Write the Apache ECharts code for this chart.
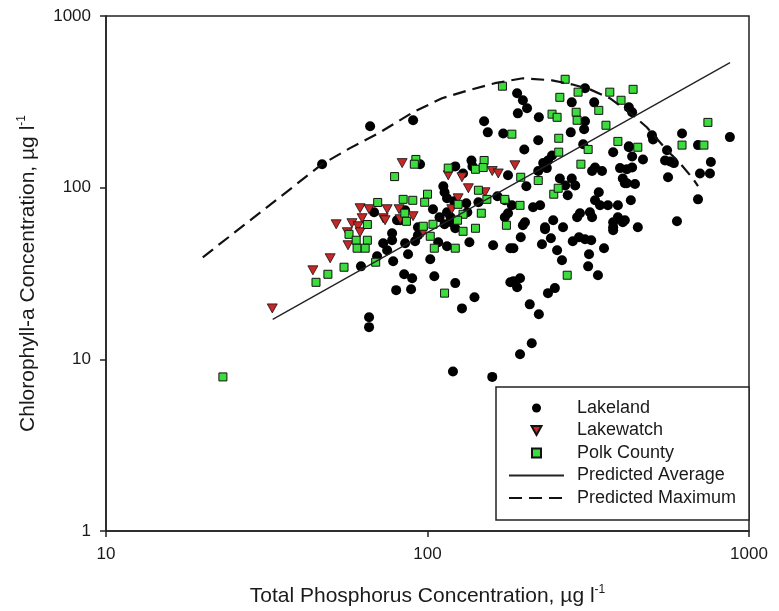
<!DOCTYPE html>
<html>
<head>
<meta charset="utf-8">
<title>Chlorophyll-a vs Total Phosphorus</title>
<script src="https://cdn.jsdelivr.net/npm/echarts@6/dist/echarts.min.js"></script>
<style>
  html, body { margin: 0; padding: 0; background: #fff; }
  #chart { width: 779px; height: 611px; }
</style>
</head>
<body>
<div id="chart"></div>
<script>
// Observations: [total phosphorus (µg/l), chlorophyll-a (µg/l)]
const lakeland = [
  [66.3,228],[47,137],[68.2,71.9],[80.4,64.6],[77.6,54.3],[72.8,47.5],[69.7,39.9],[62.1,34.8],
  [78.2,37.3],[79.9,25.3],[84.6,31.3],[74.9,43.2],[65.8,17.6],[65.8,15.4],[87,40.9],
  [90.2,247],[150,244],[154,210],[172,207],[94.8,137],[122,133],[137,144],[138,133],[129,121],
  [178,118],[112,102],[113,94],[165,89.1],[174,84.4],[115,86.7],[121,83.3],[132,81.1],[104,74.9],
  [115,71.9],[109,67.2],[133,71.9],[85.2,73.9],[82.2,64.6],[118,67.2],[120,62.1],[113,61.2],
  [93.4,58.8],[174,67.2],[183,78.9],[144,82.2],[122,58],[93.4,52.8],[77.6,49.4],[85.2,47.5],
  [91.5,48.7],[108,48.1],[115,45.6],[135,48.1],[160,46.2],[181,44.4],[102,38.3],[89.6,29.7],
  [105,30.5],[122,27.8],[181,28.1],[88.9,25.6],[140,23],[128,19.8],[120,8.5],[159,7.9],
  [190,355],[198,323],[204,290],[191,271],[309,379],[281,314],[330,314],[222,257],[309,244],
  [307,219],[279,210],[221,189],[423,174],[200,167],[305,179],[378,161],[244,154],[237,144],
  [229,139],[235,130],[332,131],[325,125],[349,125],[397,130],[221,125],[258,113],[281,113],
  [268,103],[203,102],[405,113],[411,106],[273,90.3],[288,103],[341,94],[332,84.4],[344,78.9],
  [364,78.9],[391,78.9],[213,76.9],[224,78.9],[298,71],[292,67.2],[320,71.9],[325,67.2],
  [391,67.2],[378,62.9],[405,62.9],[201,62.9],[246,64.6],[178,71],[232,58.8],[264,58.8],[378,58.8],
  [423,294],[433,275],[872,197],[619,207],[694,177],[499,202],[503,191],[423,172],[433,152],
  [556,165],[468,146],[548,144],[568,142],[584,139],[761,141],[704,121],[756,121],[433,131],
  [417,128],[560,115],[417,106],[442,105],[694,85.5],[429,84.4],[597,63.7],[451,58.8],[411,64.6],
  [198,60.4],[232,57.3],[242,50.7],[195,51.4],[185,44.4],[227,46.8],[253,43.2],[262,37.8],
  [283,48.7],[296,51.4],[309,50.1],[323,49.4],[378,56.5],[354,44.4],[318,40.9],[316,34.8],
  [339,30.9],[185,28.5],[194,29.7],[190,26.3],[249,26],[237,24.3],[208,20.9],[222,18.3],
  [211,12.4],[194,10.7]
];

const lakewatch = [
  [61.7,75.9],[65.8,74.9],[74.9,74.9],[58.2,62.1],[62.6,66.4],[52,61.2],[60.8,59.6],[56.6,46.2],
  [49.8,38.8],[44,33],[32.9,19.8],[72.8,66.4],[83.4,139],[116,118],[128,115],[159,125],[166,121],
  [134,99.2],[151,94],[124.5,86.7],[81.6,74.9],[90.2,68.2],[73.8,64.6],[82.2,65.5],[96.9,55],
  [187,135],[119,74.9],[56.3,55],[61.7,55]
];

const polkCounty = [
  [23.1,7.9],[70,82],[65,61],[57,53.5],[60,49.4],[65,49.4],[60.4,44.4],[64,44.4],[79,116],
  [69,36.8],[55,34.4],[49,31.3],[45,28.1],[171,390],[92,146],[91,137],[116,130],[141,128],
  [150,144],[149,131],[144,96.6],[153,85.5],[174,85.5],[84,85.5],[90,84.4],[100,91.6],[98,82.2],
  [124.5,80],[147,71],[129,70],[85,71],[86,63.7],[124,64.6],[104,61.2],[97,59.6],[141,58],
  [129,55.7],[102,52.1],[105,44.4],[122,44.4],[113,24.3],[268,428],[258,336],[244,268],[253,257],
  [290,275],[292,247],[294,360],[341,282],[369,360],[400,323],[436,374],[359,231],[391,186],
  [451,172],[316,167],[256,194],[256,161],[183,205],[300,137],[247,91.6],[255,99.2],[221,110],
  [194,78.9],[745,240],[619,177],[724,177],[176,60.4],[272,30.9],[195,115]
];

// Model curves
const predictedAverage = [[33,17.1],[873,535]];
const predictedMaximum = [
  [20,39.3],[47,137],[57.4,170],[71.2,210],[90.2,275],[111,332],[134,369],[162,406],[198,434],
  [244,422],[281,400],[320,374],[369,332],[436,264],[481,225],[556,165],[610,139],[669,113],[694,102]
];

const xTicks = [10, 100, 1000];
const yTicks = [1, 10, 100, 1000];

const FONT = '"Liberation Sans", Arial, Helvetica, sans-serif';
const INK = '#1a1a1a';

// Marker shapes (downward triangle, square) shared by series and legend
const TRIANGLE_DOWN = 'path://M0,0 L10,0 L5,9 Z';
const SQUARE = 'path://M0,0 L10,0 L10,10 L0,10 Z';
const HIDDEN = { color: 'rgba(0,0,0,0)', borderColor: 'rgba(0,0,0,0)', borderWidth: 0 };

const tickLabel = v => String(Math.round(v));

const chart = echarts.init(document.getElementById('chart'), null, { renderer: 'canvas' });

chart.setOption({
  animation: false,
  backgroundColor: '#fff',
  textStyle: { fontFamily: FONT, color: INK },
  grid: {
    left: 106, right: 30, top: 16, bottom: 80,
    show: true, borderColor: '#222', borderWidth: 1.5,
    outerBoundsMode: 'none'
  },
  legend: {
    orient: 'vertical',
    left: 496, top: 387,
    padding: [10, 13, 11, 12],
    borderColor: '#222', borderWidth: 1.5,
    backgroundColor: '#fff',
    itemWidth: 55, itemHeight: 9, itemGap: 0.5,
    symbolKeepAspect: true,
    symbolRotate: 0,
    textStyle: { fontFamily: FONT, fontSize: 18, color: INK, lineHeight: 22, padding: [0, 0, 0, 8] },
    data: [
      { name: 'Lakeland', icon: 'circle' },
      { name: 'Lakewatch', icon: TRIANGLE_DOWN, symbolRotate: 0 },
      { name: 'Polk County', icon: SQUARE },
      { name: 'Predicted Average', itemStyle: HIDDEN },
      { name: 'Predicted Maximum', itemStyle: HIDDEN }
    ]
  },
  xAxis: {
    type: 'log', logBase: 10, min: xTicks[0], max: xTicks[xTicks.length - 1],
    name: 'Total Phosphorus Concentration, µg l{sup|-1}',
    nameLocation: 'middle', nameGap: 53,
    nameTextStyle: {
      fontFamily: FONT, fontSize: 21, color: INK, lineHeight: 24,
      rich: { sup: { fontFamily: FONT, fontSize: 12, color: INK, verticalAlign: 'top', lineHeight: 12 } }
    },
    axisLine: { show: true, lineStyle: { color: '#222', width: 1.5 } },
    axisTick: { show: true, length: 6, lineStyle: { color: '#222', width: 1.5 } },
    minorTick: { show: false },
    splitLine: { show: false },
    axisLabel: { margin: 15, fontFamily: FONT, fontSize: 17, color: INK, formatter: tickLabel, showMinLabel: true, showMaxLabel: true }
  },
  yAxis: {
    type: 'log', logBase: 10, min: yTicks[0], max: yTicks[yTicks.length - 1],
    name: 'Chlorophyll-a Concentration, µg l{sup|-1}',
    nameLocation: 'middle', nameGap: 66, nameRotate: 90,
    nameTextStyle: {
      fontFamily: FONT, fontSize: 21, color: INK, lineHeight: 24,
      rich: { sup: { fontFamily: FONT, fontSize: 12, color: INK, verticalAlign: 'top', lineHeight: 12 } }
    },
    axisLine: { show: true, lineStyle: { color: '#222', width: 1.5 } },
    axisTick: { show: true, length: 6, lineStyle: { color: '#222', width: 1.5 } },
    minorTick: { show: false },
    splitLine: { show: false },
    axisLabel: { margin: 15, fontFamily: FONT, fontSize: 17, color: INK, formatter: tickLabel, showMinLabel: true, showMaxLabel: true }
  },
  series: [
    {
      name: 'Lakeland', type: 'scatter', data: lakeland,
      symbol: 'circle', symbolSize: 10,
      itemStyle: { color: '#000', opacity: 1 }
    },
    {
      name: 'Lakewatch', type: 'scatter', data: lakewatch,
      symbol: TRIANGLE_DOWN, symbolSize: [10, 9],
      itemStyle: { color: '#c62828', borderColor: '#111', borderWidth: 0.8, opacity: 1 }
    },
    {
      name: 'Polk County', type: 'scatter', data: polkCounty,
      symbol: 'rect', symbolSize: 8,
      itemStyle: { color: '#3ddc3d', borderColor: '#111', borderWidth: 1, opacity: 1 }
    },
    {
      name: 'Predicted Average', type: 'line', data: predictedAverage,
      symbol: 'none', showSymbol: false, silent: true,
      lineStyle: { color: '#222', width: 1.3, type: 'solid' },
      itemStyle: { color: '#222' }
    },
    {
      name: 'Predicted Maximum', type: 'line', data: predictedMaximum,
      symbol: 'none', showSymbol: false, silent: true,
      lineStyle: { color: '#111', width: 2.2, type: [13, 7] },
      itemStyle: { color: '#111' }
    }
  ]
});
</script>
</body>
</html>
